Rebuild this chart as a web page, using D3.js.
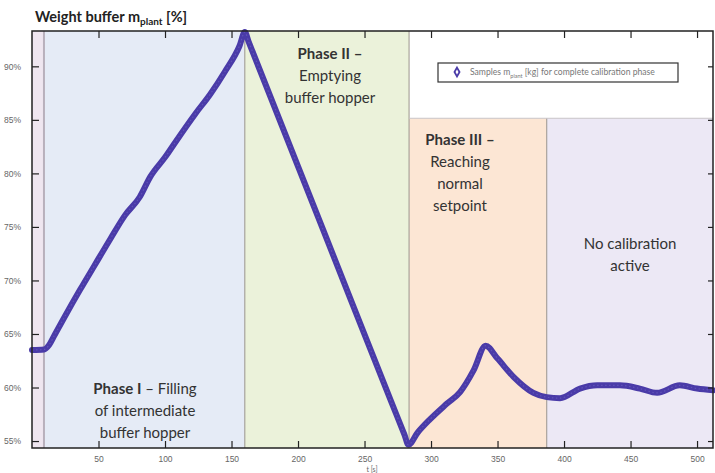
<!DOCTYPE html>
<html><head><meta charset="utf-8">
<script src="https://cdn.jsdelivr.net/npm/d3@7"></script>
<style>
html,body{margin:0;padding:0;background:#fff;}
svg{display:block;font-family:Lato,"Open Sans",sans-serif;}
</style></head>
<body><svg id="c" width="715" height="473"></svg>
<script>
// ---- data ----
const timeS = [0, 9, 13, 17, 25, 36, 47, 59, 70, 81, 89, 100, 111, 123, 134, 145, 156, 160,
  163, 200, 240, 270, 280, 283,
  290, 299, 312, 322, 332, 341, 350, 362, 377, 387, 397, 412, 425, 442, 457, 470, 487, 500, 512];
const weightPct = [63.5, 63.55, 64.0, 64.9, 66.7, 69.1, 71.4, 73.9, 76.1, 77.8, 79.7, 81.5, 83.5, 85.6, 87.4, 89.5, 91.9, 93.2,
  92.26, 80.66, 68.1, 58.7, 55.6, 54.65,
  55.8, 57.0, 58.5, 59.6, 61.6, 63.9, 62.7, 61.0, 59.5, 59.1, 59.0, 59.9, 60.2, 60.2, 59.9, 59.5, 60.2, 59.9, 59.75];
const xTicks = [50, 100, 150, 200, 250, 300, 350, 400, 450, 500];
const yTicks = [55, 60, 65, 70, 75, 80, 85, 90];
const phaseNames = ["pre", "Phase I", "Phase II", "Phase III", "No calibration"];
const phaseStart = [0, 9, 160, 283.5, 387];
const phaseEnd = [9, 160, 283.5, 387, 512];
const phaseTop = [93.3, 93.3, 93.3, 85.15, 85.15];
const phaseColor = ["#efe6f0", "#e5ebf6", "#ebf2da", "#fce6d4", "#ece8f5"];

const svg = d3.select("#c");
const L = 32, R = 713, T = 31, B = 448;
const x = d3.scaleLinear().domain([0, 512]).range([L, R]);
const y = d3.scaleLinear().domain([54.35, 93.3]).range([B, T]);

// phase bands
svg.selectAll("rect.band").data(phaseStart).join("rect")
  .attr("x", (d) => x(d)).attr("width", (d, i) => x(phaseEnd[i]) - x(d))
  .attr("y", (d, i) => y(phaseTop[i])).attr("height", (d, i) => B - y(phaseTop[i]))
  .attr("fill", (d, i) => phaseColor[i]);
// separator lines
svg.selectAll("line.sep").data(phaseStart.slice(1)).join("line")
  .attr("x1", (d) => x(d)).attr("x2", (d) => x(d))
  .attr("y1", (d, i) => y(Math.max(phaseTop[i + 1], phaseTop[i]))).attr("y2", B)
  .attr("stroke", (d, i) => i === 0 ? "#b8b0bc" : "#9a948c").attr("stroke-width", (d, i) => i === 0 ? 2 : 1);
svg.append("line").attr("x1", x(283.5)).attr("x2", R).attr("y1", y(85.15)).attr("y2", y(85.15))
  .attr("stroke", "#c8c4c8").attr("stroke-width", 1);

// line
const line = d3.line().x((d, i) => x(timeS[i])).y((d) => y(d)).curve(d3.curveMonotoneX);
svg.append("path").datum(weightPct).attr("d", line)
  .attr("fill", "none").attr("stroke", "#4a3ba8").attr("stroke-width", 6)
  .attr("stroke-linejoin", "round").attr("stroke-linecap", "round");
svg.append("path").datum(weightPct).attr("d", line)
  .attr("fill", "none").attr("stroke", "#6a5cc0").attr("stroke-width", 1.2).attr("stroke-dasharray", "1.5 2.5").attr("opacity", 0.7);

// axes (inward ticks)
const tickStyle = (g) => {
  g.select(".domain").remove();
  g.selectAll(".tick line").attr("stroke", "#222").attr("stroke-width", 1.2);
  g.selectAll(".tick text").attr("fill", "#666").attr("font-size", 8.5);
};
svg.append("g").attr("transform", `translate(0,${B})`)
  .call(d3.axisBottom(x).tickValues(xTicks).tickSizeInner(-7).tickSizeOuter(0).tickPadding(8).tickFormat(d3.format("d")))
  .call(tickStyle);
svg.append("g").attr("transform", `translate(0,${T})`)
  .call(d3.axisTop(x).tickValues(xTicks).tickSizeInner(-7).tickSizeOuter(0).tickFormat(""))
  .call(tickStyle);
svg.append("g").attr("transform", `translate(${L},0)`)
  .call(d3.axisLeft(y).tickValues(yTicks).tickSizeInner(-7).tickSizeOuter(0).tickPadding(11).tickFormat((d) => d + "%"))
  .call(tickStyle);
svg.append("g").attr("transform", `translate(${R},0)`)
  .call(d3.axisRight(y).tickValues(yTicks).tickSizeInner(-5).tickSizeOuter(0).tickFormat(""))
  .call(tickStyle);
// frame
svg.append("rect").attr("x", L).attr("y", T).attr("width", R - L).attr("height", B - T)
  .attr("fill", "none").attr("stroke", "#222").attr("stroke-width", 1.5);

// axis labels
const title = svg.append("text").attr("x", 35).attr("y", 22).attr("font-size", 14.5).attr("font-weight", "bold").attr("fill", "#222");
title.append("tspan").text("Weight buffer m");
title.append("tspan").attr("font-size", 10).attr("dy", 3).text("plant");
title.append("tspan").attr("dy", -3).text(" [%]");
svg.append("text").attr("x", 372).attr("y", 472).attr("text-anchor", "middle").attr("font-size", 7).attr("fill", "#666").text("t [s]");

// phase labels
function label(cx, y0, lines) {
  lines.forEach((ln, i) => {
    const t = svg.append("text").attr("x", cx).attr("y", y0 + i * 22).attr("text-anchor", "middle")
      .attr("font-size", 15).attr("fill", "#333");
    ln.forEach(([s, b]) => t.append("tspan").attr("font-weight", b ? "bold" : "normal").text(s));
  });
}
label(145, 394, [[["Phase I", true], [" – Filling", false]], [["of intermediate", false]], [["buffer hopper", false]]]);
label(330, 59, [[["Phase II –", true]], [["Emptying", false]], [["buffer hopper", false]]]);
label(460, 145, [[["Phase III –", true]], [["Reaching", false]], [["normal", false]], [["setpoint", false]]]);
label(630, 249, [[["No calibration", false]], [["active", false]]]);

// legend
svg.append("rect").attr("x", 438).attr("y", 63).attr("width", 240).attr("height", 19)
  .attr("fill", "#fff").attr("stroke", "#333").attr("stroke-width", 1.2);
svg.append("path").attr("d", d3.symbol(d3.symbolDiamond, 22)()).attr("transform", "translate(457,72)")
  .attr("fill", "none").attr("stroke", "#4a3ba8").attr("stroke-width", 1.8);
const lg = svg.append("text").attr("x", 470).attr("y", 75).attr("font-size", 8.6).attr("fill", "#777");
lg.append("tspan").text("Samples m");
lg.append("tspan").attr("font-size", 5.5).attr("dy", 2.5).text("plant");
lg.append("tspan").attr("dy", -2.5).text(" [kg] for complete calibration phase");
</script></body></html>
